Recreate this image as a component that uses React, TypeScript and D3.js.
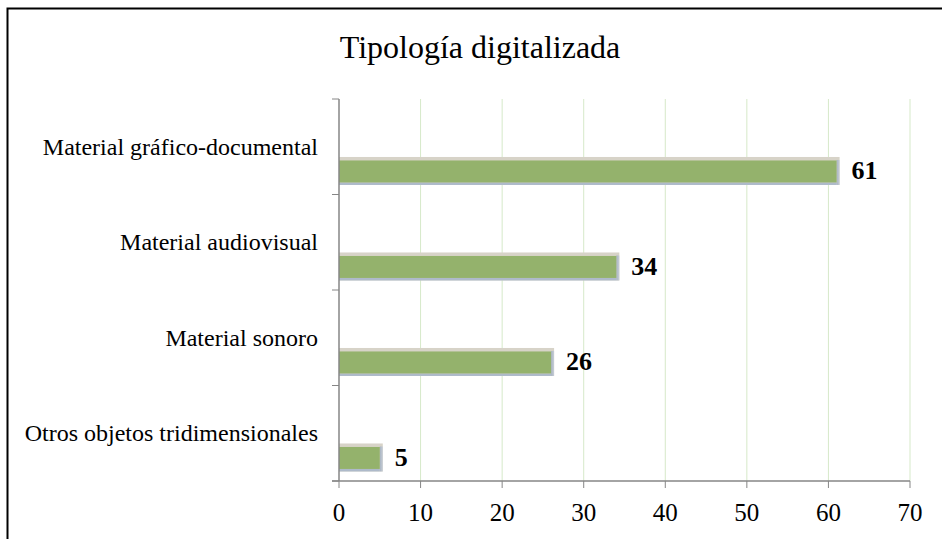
import React from "react";
import * as d3 from "d3";

const categories = [
  "Material gráfico-documental",
  "Material audiovisual",
  "Material sonoro",
  "Otros objetos tridimensionales",
];
const values = [61, 34, 26, 5];
const xTicks = [0, 10, 20, 30, 40, 50, 60, 70];
const title = "Tipología digitalizada";

const W = 942;
const H = 539;
const FONT = "'Liberation Serif', 'Times New Roman', serif";

export default function App() {
  const x = d3.scaleLinear().domain([0, 70]).range([339, 910]);
  const y = d3.scaleBand<string>().domain(categories).range([99, 481]).padding(0);
  const step = y.step();
  const axisColor = "#868686";

  return (
    <svg
      width={W}
      height={H}
      style={{ position: "absolute", left: 0, top: 0, background: "#fff" }}
      fontFamily={FONT}
    >
      <defs>
        <linearGradient id="rightEdge" x1="0" x2="1" y1="0" y2="0">
          <stop offset="0%" stopColor="#a7b3c2" />
          <stop offset="100%" stopColor="#c8ced6" />
        </linearGradient>
      </defs>
      {/* outer border (right/bottom cut off) */}
      <path d={`M7.5,${H + 5} V8.5 H${W + 5}`} fill="none" stroke="#000" strokeWidth={2} />

      {/* title */}
      <text x={480} y={58} textAnchor="middle" fontSize={32} fill="#000">
        {title}
      </text>

      {/* gridlines */}
      {xTicks.filter((t) => t !== 0).map((t) => (
        <line key={"g" + t} x1={x(t)} x2={x(t)} y1={99} y2={481} stroke="#d6e9c9" strokeWidth={1} />
      ))}

      {/* bars */}
      {categories.map((c, i) => {
        const top = (y(c) as number) + step * 0.607;
        const bh = step * 0.293;
        const x0 = x(0);
        const x1 = x(values[i]);
        return (
          <g key={c}>
            <rect x={x0} y={top} width={x1 - x0 + 3} height={bh} fill="#d7d3c8" />
            <rect x={x1} y={top + 3} width={3} height={bh - 3} fill="url(#rightEdge)" />
            <rect x={x0} y={top + bh - 2.5} width={x1 - x0} height={2.5} fill="#aebaca" />
            <rect x={x0} y={top + 3.5} width={x1 - x0} height={bh - 6} fill="#94b26c" />
            <text
              x={x1 + 15}
              y={top + bh / 2 + 8.5}
              fontSize={26}
              fontWeight="bold"
              fill="#000"
            >
              {values[i]}
            </text>
          </g>
        );
      })}

      {/* y axis */}
      <line x1={339} x2={339} y1={99} y2={481} stroke={axisColor} strokeWidth={1.5} />
      {categories.map((c) => (
        <line key={"yt" + c} x1={332} x2={339} y1={y(c)} y2={y(c)} stroke={axisColor} strokeWidth={1} />
      ))}
      <line x1={332} x2={339} y1={481} y2={481} stroke={axisColor} strokeWidth={1} />
      {categories.map((c) => (
        <text
          key={"yl" + c}
          x={318}
          y={(y(c) as number) + step / 2 + 8}
          textAnchor="end"
          fontSize={24}
          fill="#000"
        >
          {c}
        </text>
      ))}

      {/* x axis */}
      <line x1={332} x2={910} y1={481} y2={481} stroke={axisColor} strokeWidth={1.5} />
      {xTicks.map((t) => (
        <g key={"xt" + t}>
          <line x1={x(t)} x2={x(t)} y1={481} y2={488} stroke={axisColor} strokeWidth={1} />
          <text x={x(t)} y={521} textAnchor="middle" fontSize={25} fill="#000">
            {t}
          </text>
        </g>
      ))}
    </svg>
  );
}
